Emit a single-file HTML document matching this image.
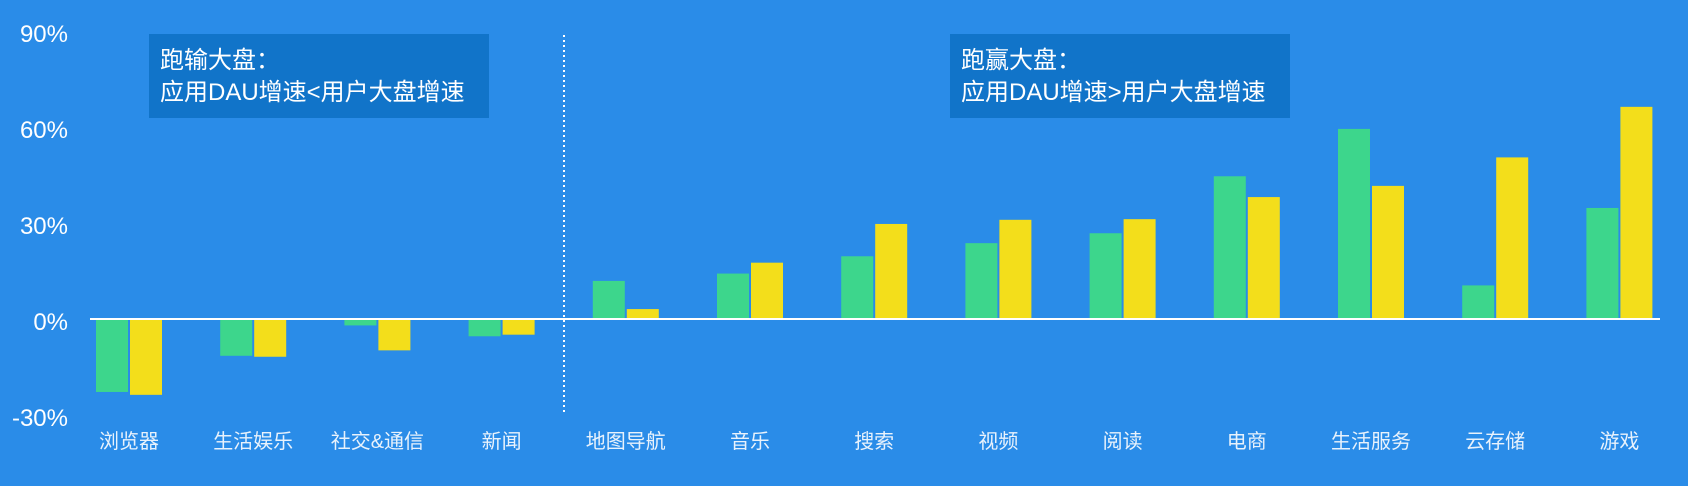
<!DOCTYPE html>
<html><head><meta charset="utf-8"><style>
html,body{margin:0;padding:0;background:#2a8ce8;}
svg{display:block;font-family:"Liberation Sans","Noto Sans CJK SC",sans-serif;}
</style></head><body>
<svg id="chart" width="1688" height="486" viewBox="0 0 1688 486">
<rect width="1688" height="486" fill="#2a8ce8"/>
<g id="yaxis"></g>
<g id="bars"></g>
<line x1="90" x2="1660" y1="319" y2="319" stroke="#fff" stroke-width="2"/>
<line x1="564" x2="564" y1="35" y2="412" stroke="#fff" stroke-width="2" stroke-dasharray="2,3"/>
<g id="xaxis"></g>
<g>
<rect x="149" y="34" width="340" height="84" fill="#1174c9"/>
<text x="160" y="68" fill="#fff" font-size="24">跑输大盘：</text>
<text x="160" y="100" fill="#fff" font-size="24">应用DAU增速&lt;用户大盘增速</text>
</g>
<g>
<rect x="950" y="34" width="340" height="84" fill="#1174c9"/>
<text x="961" y="68" fill="#fff" font-size="24">跑赢大盘：</text>
<text x="961" y="100" fill="#fff" font-size="24">应用DAU增速&gt;用户大盘增速</text>
</g>
</svg>
<script>
const categories=["浏览器","生活娱乐","社交&通信","新闻","地图导航","音乐","搜索","视频","阅读","电商","生活服务","云存储","游戏"];
const greenValues=[-22.8,-11.5,-2,-5.4,11.9,14.2,19.6,23.7,26.8,44.6,59.4,10.5,34.7];
const yellowValues=[-23.7,-11.8,-9.8,-4.9,3.1,17.6,29.7,31,31.2,38.1,41.6,50.5,66.3];
const yTicks=[-30,0,30,60,90];
const yTickLabels=["-30%","0%","30%","60%","90%"];
const NS="http://www.w3.org/2000/svg";
function yScale(v){return 319-v*3.2;}
function xCenter(i){return 129+i*124.2;}
const yaxis=document.getElementById('yaxis'),bars=document.getElementById('bars'),xaxis=document.getElementById('xaxis');
yTicks.forEach((t,i)=>{
 const el=document.createElementNS(NS,'text');
 el.setAttribute('x',68);el.setAttribute('y',yScale(t)+11);
 el.setAttribute('text-anchor','end');el.setAttribute('fill','#fff');el.setAttribute('font-size','24');
 el.textContent=yTickLabels[i];
 
 
 yaxis.appendChild(el);
});
function bar(x,v,color){
 const r=document.createElementNS(NS,'rect');
 const y0=yScale(0),y1=yScale(v);
 r.setAttribute('x',x);r.setAttribute('width',32);
 r.setAttribute('y',Math.min(y0,y1));r.setAttribute('height',Math.abs(y1-y0));
 r.setAttribute('fill',color);
 return r;
}
categories.forEach((c,i)=>{
 const cx=xCenter(i);
 const g=bar(cx-33,greenValues[i],'#3dd68c');
 
 
 bars.appendChild(g);
 const y=bar(cx+1,yellowValues[i],'#f3de1b');
 
 
 bars.appendChild(y);
 const t=document.createElementNS(NS,'text');
 t.setAttribute('x',cx);t.setAttribute('y',448);t.setAttribute('text-anchor','middle');
 t.setAttribute('fill','#e8f2fc');t.setAttribute('font-size','20');
 t.textContent=c;
 
 
 xaxis.appendChild(t);
});
</script>
</body></html>
